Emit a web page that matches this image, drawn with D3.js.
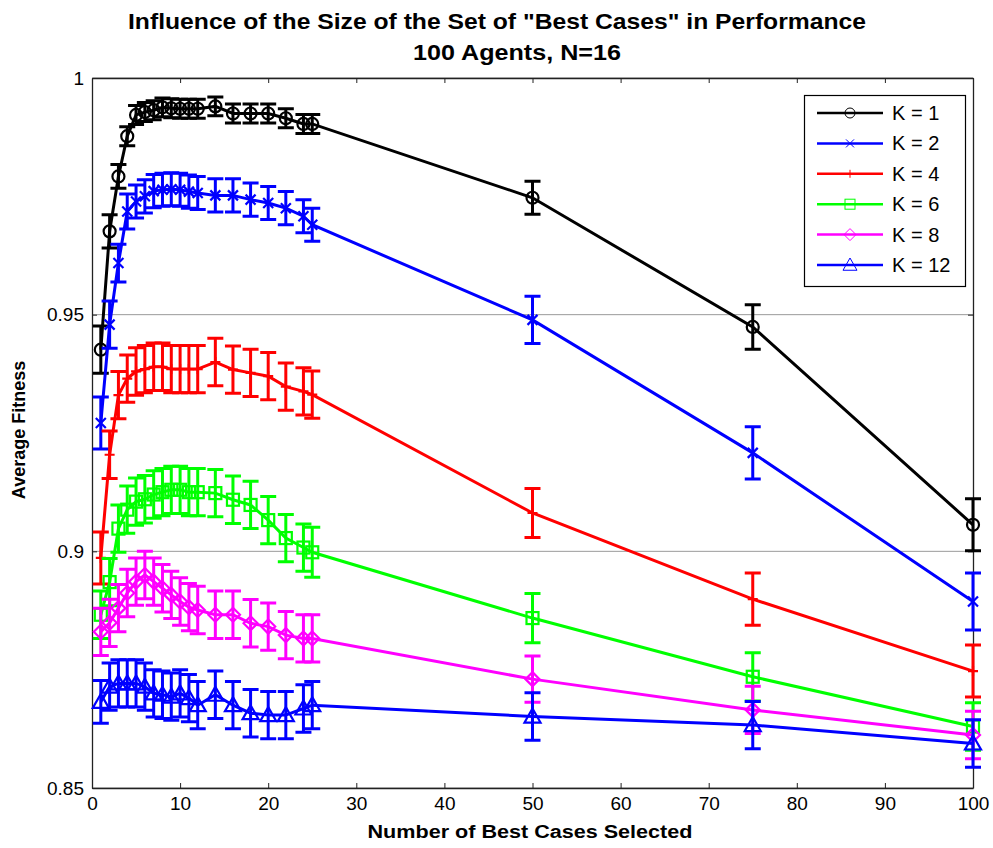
<!DOCTYPE html>
<html>
<head>
<meta charset="utf-8">
<script src="https://cdn.jsdelivr.net/npm/d3@7"></script>
<style>
  body { margin: 0; background: #fff; }
  text { font-family: "Liberation Sans", Arial, sans-serif; }
</style>
</head>
<body>
<script>
// x positions (number of best cases selected)
var xs = [1, 2, 3, 4, 5, 6, 7, 8, 9, 10, 11, 12, 14, 16, 18, 20, 22, 24, 25, 50, 75, 100]

// average fitness per K
var k1 = [0.9426, 0.9676, 0.9792, 0.9877, 0.9922, 0.9928, 0.9932, 0.9938, 0.9936, 0.9935, 0.9935, 0.9935, 0.9940, 0.9925, 0.9925, 0.9925, 0.9915, 0.9903, 0.9903, 0.9747, 0.9474, 0.9056]
var k2 = [0.9271, 0.9479, 0.9609, 0.9718, 0.9739, 0.9750, 0.9761, 0.9764, 0.9765, 0.9764, 0.9760, 0.9757, 0.9752, 0.9752, 0.9743, 0.9736, 0.9725, 0.9708, 0.9690, 0.9489, 0.9208, 0.8894]
var k4 = [0.8986, 0.9204, 0.9330, 0.9365, 0.9380, 0.9385, 0.9390, 0.9390, 0.9385, 0.9385, 0.9385, 0.9385, 0.9400, 0.9384, 0.9377, 0.9370, 0.9348, 0.9338, 0.9331, 0.9081, 0.8899, 0.8747]
var k6 = [0.8866, 0.8935, 0.9048, 0.9088, 0.9105, 0.9110, 0.9120, 0.9125, 0.9130, 0.9130, 0.9125, 0.9125, 0.9123, 0.9109, 0.9098, 0.9066, 0.9028, 0.9008, 0.8998, 0.8859, 0.8735, 0.8630]
var k8 = [0.8830, 0.8849, 0.8880, 0.8912, 0.8936, 0.8950, 0.8936, 0.8922, 0.8908, 0.8894, 0.8882, 0.8876, 0.8866, 0.8866, 0.8848, 0.8841, 0.8823, 0.8816, 0.8816, 0.8730, 0.8665, 0.8612]
var k12 = [0.8682, 0.8714, 0.8721, 0.8721, 0.8721, 0.8714, 0.8700, 0.8697, 0.8693, 0.8700, 0.8690, 0.8675, 0.8697, 0.8675, 0.8658, 0.8654, 0.8654, 0.8668, 0.8675, 0.8651, 0.8633, 0.8594]

// half length of the error bars
var e1 = [0.0050, 0.0035, 0.0025, 0.0020, 0.0020, 0.0020, 0.0020, 0.0020, 0.0020, 0.0020, 0.0020, 0.0020, 0.0020, 0.0020, 0.0020, 0.0020, 0.0020, 0.0020, 0.0020, 0.0035, 0.0047, 0.0055]
var e2 = [0.0055, 0.0050, 0.0040, 0.0037, 0.0035, 0.0035, 0.0035, 0.0035, 0.0035, 0.0035, 0.0035, 0.0035, 0.0035, 0.0035, 0.0035, 0.0035, 0.0035, 0.0035, 0.0035, 0.0050, 0.0055, 0.0060]
var e4 = [0.0055, 0.0050, 0.0050, 0.0050, 0.0050, 0.0050, 0.0050, 0.0050, 0.0050, 0.0050, 0.0050, 0.0050, 0.0050, 0.0050, 0.0050, 0.0050, 0.0050, 0.0050, 0.0050, 0.0052, 0.0055, 0.0055]
var e6 = [0.0050, 0.0050, 0.0050, 0.0050, 0.0050, 0.0050, 0.0050, 0.0050, 0.0050, 0.0050, 0.0050, 0.0050, 0.0050, 0.0050, 0.0050, 0.0050, 0.0050, 0.0050, 0.0053, 0.0052, 0.0051, 0.0050]
var e8 = [0.0050, 0.0050, 0.0050, 0.0050, 0.0050, 0.0050, 0.0050, 0.0050, 0.0050, 0.0050, 0.0050, 0.0050, 0.0050, 0.0050, 0.0050, 0.0050, 0.0050, 0.0050, 0.0050, 0.0049, 0.0050, 0.0050]
var e12 = [0.0045, 0.0050, 0.0050, 0.0050, 0.0050, 0.0050, 0.0050, 0.0050, 0.0050, 0.0050, 0.0050, 0.0050, 0.0050, 0.0050, 0.0050, 0.0050, 0.0050, 0.0050, 0.0050, 0.0050, 0.0050, 0.0050]

var seriesNames = ["K = 1", "K = 2", "K = 4", "K = 6", "K = 8", "K = 12"]
var xTicks = [0, 10, 20, 30, 40, 50, 60, 70, 80, 90, 100]
var yTicks = [0.85, 0.9, 0.95, 1]

var series = [
    { name: seriesNames[0], values: k1, err: e1, color: "#000000", marker: "circle" },
    { name: seriesNames[1], values: k2, err: e2, color: "#0000ff", marker: "x" },
    { name: seriesNames[2], values: k4, err: e4, color: "#ff0000", marker: "plus" },
    { name: seriesNames[3], values: k6, err: e6, color: "#00ff00", marker: "square" },
    { name: seriesNames[4], values: k8, err: e8, color: "#ff00ff", marker: "diamond" },
    { name: seriesNames[5], values: k12, err: e12, color: "#0000ff", marker: "triangle" }
]

var svgWidth = 993
var svgHeight = 848
// plot box (note: "top" is reserved on window)
var boxLeft = 92, boxRight = 973, boxTop = 78, boxBottom = 788

var svg = d3.select("body").append("svg")
    .attr("width", svgWidth)
    .attr("height", svgHeight)

var x = d3.scaleLinear().domain([0, 100]).range([boxLeft, boxRight])
var y = d3.scaleLinear().domain([0.85, 1]).range([boxBottom, boxTop])

// horizontal grid
svg.append("g")
    .selectAll("line")
    .data(yTicks)
    .join("line")
    .attr("x1", boxLeft).attr("x2", boxRight)
    .attr("y1", d => y(d)).attr("y2", d => y(d))
    .attr("stroke", "#9a9a9a")
    .attr("stroke-width", 1)

// axes, ticks pointing inward like matlab
var xAxis = svg.append("g")
    .attr("transform", "translate(0," + boxBottom + ")")
    .call(d3.axisBottom(x).tickValues(xTicks).tickSize(-5).tickSizeOuter(0).tickPadding(9))
var xTop = svg.append("g")
    .attr("transform", "translate(0," + boxTop + ")")
    .call(d3.axisTop(x).tickValues(xTicks).tickSize(-5).tickSizeOuter(0).tickFormat(""))
var yAxis = svg.append("g")
    .attr("transform", "translate(" + boxLeft + ",0)")
    .call(d3.axisLeft(y).tickValues(yTicks).tickSize(-5).tickSizeOuter(0).tickPadding(8).tickFormat(d3.format("")))
var yRight = svg.append("g")
    .attr("transform", "translate(" + boxRight + ",0)")
    .call(d3.axisRight(y).tickValues(yTicks).tickSize(-5).tickSizeOuter(0).tickFormat(""))

svg.selectAll(".domain").attr("stroke", "#222").attr("stroke-width", 1.3)
svg.selectAll(".tick line").attr("stroke", "#222")
svg.selectAll(".tick text")
    .style("font-size", "19px")
    .attr("fill", "#000")

// marker drawing
function drawMarker(g, type, cx, cy, color, s, w) {
    if (type == "circle") {
        g.append("circle").attr("cx", cx).attr("cy", cy).attr("r", s)
            .attr("fill", "none").attr("stroke", color).attr("stroke-width", w)
    } else if (type == "x") {
        g.append("path")
            .attr("d", "M" + (cx - s) + "," + (cy - s) + "L" + (cx + s) + "," + (cy + s) +
                "M" + (cx - s) + "," + (cy + s) + "L" + (cx + s) + "," + (cy - s))
            .attr("stroke", color).attr("stroke-width", w)
    } else if (type == "plus") {
        g.append("path")
            .attr("d", "M" + (cx - s) + "," + cy + "L" + (cx + s) + "," + cy +
                "M" + cx + "," + (cy - s) + "L" + cx + "," + (cy + s))
            .attr("stroke", color).attr("stroke-width", w)
    } else if (type == "square") {
        g.append("rect").attr("x", cx - s).attr("y", cy - s).attr("width", 2 * s).attr("height", 2 * s)
            .attr("fill", "none").attr("stroke", color).attr("stroke-width", w)
    } else if (type == "diamond") {
        g.append("path")
            .attr("d", "M" + cx + "," + (cy - s) + "L" + (cx + s) + "," + cy + "L" + cx + "," + (cy + s) +
                "L" + (cx - s) + "," + cy + "Z")
            .attr("fill", "none").attr("stroke", color).attr("stroke-width", w)
    } else if (type == "triangle") {
        g.append("path")
            .attr("d", "M" + cx + "," + (cy - s) + "L" + (cx + s) + "," + (cy + s * 0.75) +
                "L" + (cx - s) + "," + (cy + s * 0.75) + "Z")
            .attr("fill", "none").attr("stroke", color).attr("stroke-width", w)
    }
}

var markerSize = { circle: 6, x: 5, plus: 5, square: 6, diamond: 7, triangle: 8 }

var line = d3.line()
    .x(d => x(d[0]))
    .y(d => y(d[1]))

var plot = svg.append("g")
var capHalf = 8

series.forEach(function(s) {
    var g = plot.append("g")
    var pts = xs.map((xv, i) => [xv, s.values[i], s.err[i]])

    g.append("path")
        .datum(pts)
        .attr("d", line)
        .attr("fill", "none")
        .attr("stroke", s.color)
        .attr("stroke-width", 3)

    // error bars with caps
    g.selectAll(".bar")
        .data(pts)
        .join("path")
        .attr("d", function(d) {
            var cx = x(d[0]), y0 = y(d[1] - d[2]), y1 = y(d[1] + d[2])
            return "M" + cx + "," + y0 + "L" + cx + "," + y1 +
                "M" + (cx - capHalf) + "," + y0 + "L" + (cx + capHalf) + "," + y0 +
                "M" + (cx - capHalf) + "," + y1 + "L" + (cx + capHalf) + "," + y1
        })
        .attr("fill", "none")
        .attr("stroke", s.color)
        .attr("stroke-width", 3)

    pts.forEach(function(d) {
        drawMarker(g, s.marker, x(d[0]), y(d[1]), s.color, markerSize[s.marker], 2.2)
    })
})

// legend
var legend = svg.append("g")
legend.append("rect")
    .attr("x", 804.5).attr("y", 95.5)
    .attr("width", 161).attr("height", 191)
    .attr("fill", "#fff")
    .attr("stroke", "#000")
    .attr("stroke-width", 1.2)

series.forEach(function(s, i) {
    var ly = 113 + i * 30.4
    legend.append("line")
        .attr("x1", 817).attr("x2", 883)
        .attr("y1", ly).attr("y2", ly)
        .attr("stroke", s.color)
        .attr("stroke-width", 2.5)
    drawMarker(legend, s.marker, 850, ly, s.color, markerSize[s.marker] - 1, 1)
    legend.append("text")
        .attr("x", 892).attr("y", ly + 7)
        .style("font-size", "20px")
        .text(s.name)
})

// titles and axis labels
svg.append("text")
    .attr("x", 497).attr("y", 29)
    .attr("text-anchor", "middle")
    .attr("textLength", 738).attr("lengthAdjust", "spacingAndGlyphs")
    .style("font-size", "22px").style("font-weight", "bold")
    .text('Influence of the Size of the Set of "Best Cases" in Performance')
svg.append("text")
    .attr("x", 517).attr("y", 60)
    .attr("text-anchor", "middle")
    .attr("textLength", 208).attr("lengthAdjust", "spacingAndGlyphs")
    .style("font-size", "22px").style("font-weight", "bold")
    .text("100 Agents, N=16")

svg.append("text")
    .attr("x", 530).attr("y", 838)
    .attr("text-anchor", "middle")
    .attr("textLength", 325).attr("lengthAdjust", "spacingAndGlyphs")
    .style("font-size", "18px").style("font-weight", "bold")
    .text("Number of Best Cases Selected")

svg.append("text")
    .attr("transform", "translate(25," + 430 + ") rotate(-90)")
    .attr("text-anchor", "middle")
    .style("font-size", "18px").style("font-weight", "bold")
    .text("Average Fitness")
</script>
</body>
</html>
